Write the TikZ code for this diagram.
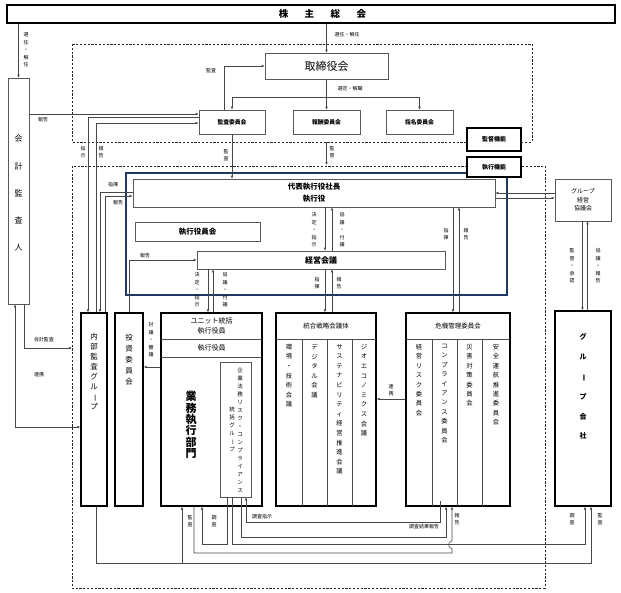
\documentclass[tikz,border=0pt]{standalone}
\usepackage{fontspec}
\setmainfont{Noto Sans CJK JP}
\usepackage{graphicx}
\usetikzlibrary{arrows.meta}
\definecolor{navy}{HTML}{1F3864}
\ExplSyntaxOn
\cs_new:Npn \vtx_char:n #1 { \str_if_eq:nnTF {#1} {ー} { \rotatebox[origin=c]{-90}{ー} } {#1} }
\NewDocumentCommand \VText { O{7.5pt} m }
  { \vbox { \baselineskip=#1 \lineskiplimit=-100pt \lineskip=0pt
      \tl_map_inline:nn {#2} { \hbox to 1em { \hss \vtx_char:n {##1} \hss } } } }
\ExplSyntaxOff
\newcommand\GBox[7]{\node[#2, minimum width={#5-#3}, minimum height={#6-#4}] (#1) at ({(#3+#5)/2},{(#4+#6)/2}) {#7};}
\begin{document}
\begin{tikzpicture}[x=1pt,y=-1pt,
  ln/.style={draw=black!72, line width=0.55pt},
  arr/.style={ln, -{Latex[length=3pt,width=2.6pt]}},
  arrr/.style={ln, {Latex[length=3pt,width=2.6pt]}-{Latex[length=3pt,width=2.6pt]}},
  tbox/.style={draw=black!65, line width=0.65pt, fill=white, inner sep=0pt},
  kbox/.style={draw=black, line width=1.3pt, fill=white, inner sep=0pt},
  dbox/.style={draw=black!85, line width=0.75pt, dash pattern=on 2.2pt off 1.6pt},
  hl/.style={draw=black!70, line width=0.6pt},
  lab/.style={inner sep=0pt, text=black, font=\fontsize{5}{5.8}\selectfont},
  txt/.style={inner sep=0pt},
]
\fill[white] (0,0) rectangle (621,592);
\useasboundingbox (0,0) rectangle (621,592);

% regions
\draw[dbox] (72,44) rectangle (532,142);
\draw[dbox] (72,166) rectangle (545,588);
\draw[navy, line width=1.1pt] (126,173) rectangle (507,295);

% boxes
\GBox{kabu}{kbox}{7}{5}{615}{23}{}
\node[txt, font=\bfseries\fontsize{9.5}{10}\selectfont] (tkabu) at (322.5,14) {株\hspace{16.5pt}主\hspace{16.5pt}総\hspace{16.5pt}会};
\GBox{kaikei}{tbox}{8}{78}{29}{304}{}
\node[txt, anchor=north, font=\fontsize{8}{9}\selectfont] (tkaikei) at (18.5,135) {\VText[27.2pt]{会計監査人}};
\GBox{tori}{tbox, font=\fontsize{11}{12}\selectfont}{265}{53}{388}{79}{取締役会}
\GBox{kansaI}{tbox, font=\bfseries\fontsize{5.8}{7}\selectfont}{199}{110}{265}{134}{監査委員会}
\GBox{hoshu}{tbox, font=\bfseries\fontsize{5.8}{7}\selectfont}{293}{110}{360}{134}{報酬委員会}
\GBox{shimei}{tbox, font=\bfseries\fontsize{5.8}{7}\selectfont}{386}{110}{453}{134}{指名委員会}
\GBox{kantoku}{kbox, font=\bfseries\fontsize{6}{7}\selectfont}{467}{128}{521}{151}{監督機能}
\GBox{shikko}{kbox, font=\bfseries\fontsize{6}{7}\selectfont}{467}{157}{521}{177}{執行機能}
\GBox{daihyo}{tbox, align=center, font=\bfseries\fontsize{7.5}{12}\selectfont}{133}{179}{495}{207}{代表執行役社長\\執行役}
\GBox{shyk}{tbox, font=\bfseries\fontsize{7.5}{9}\selectfont}{135}{222}{260}{241}{執行役員会}
\GBox{keiei}{tbox, font=\bfseries\fontsize{8}{9}\selectfont}{197}{251}{445}{269}{経営会議}
\GBox{gkk}{tbox, align=center, font=\fontsize{6}{8.5}\selectfont}{555}{179}{611}{221}{グループ\\経営\\協議会}
\GBox{naibu}{kbox}{81}{313}{107}{506}{}
\GBox{toshi}{kbox}{115}{313}{143}{506}{}
\GBox{gyomu}{kbox}{161}{313}{262}{506}{}
\GBox{togo}{kbox}{276}{313}{376}{506}{}
\GBox{kiki}{kbox}{406}{313}{510}{506}{}
\GBox{gk}{kbox}{555}{311}{611}{506}{}
\GBox{comp}{tbox}{220}{362}{251}{497}{}

% inner separators
\draw[hl] (161,339) -- (262,339);
\draw[hl] (161,357) -- (262,357);
\draw[hl] (276,339) -- (376,339);
\draw[hl] (406,339) -- (510,339);
\foreach \xx in {302,327,352,432,457,482} \draw[hl] (\xx,339) -- (\xx,506);

% box texts
\node[txt, anchor=north, font=\fontsize{7.5}{8}\selectfont] (tnaibu) at (94,333) {\VText[10pt]{内部監査グループ}};
\node[txt, anchor=north, font=\fontsize{7.5}{8}\selectfont] (ttoshi) at (129,334) {\VText[11pt]{投資委員会}};
\node[txt, align=center, font=\fontsize{7}{10.5}\selectfont] (tunit) at (211.5,326) {ユニット統括\\執行役員};
\node[txt, font=\fontsize{7}{8}\selectfont] (tshy2) at (211.5,348) {執行役員};
\node[txt, anchor=north, font=\bfseries\fontsize{11}{12}\selectfont] (tgyomu) at (191,391) {\VText[11.4pt]{業務執行部門}};
\node[txt, anchor=north, font=\fontsize{5.5}{6}\selectfont] (tc1) at (240,368) {\VText[8pt]{企業法務リスク・コンプライアンス}};
\node[txt, anchor=north, font=\fontsize{5.5}{6}\selectfont] (tc2) at (232,407) {\VText[8pt]{統括グループ}};
\node[txt, font=\fontsize{6.5}{7}\selectfont] (ttogo) at (326,326) {統合戦略会議体};
\node[txt, font=\fontsize{6.5}{7}\selectfont] (tkiki) at (458,326) {危機管理委員会};
\node[txt, anchor=north, font=\fontsize{6.3}{7}\selectfont] (tg1) at (289,344) {\VText[9.6pt]{環境・技術会議}};
\node[txt, anchor=north, font=\fontsize{6.3}{7}\selectfont] (tg2) at (314.5,344) {\VText[9.6pt]{デジタル会議}};
\node[txt, anchor=north, font=\fontsize{6.3}{7}\selectfont] (tg3) at (339.5,344) {\VText[9.6pt]{サステナビリティ経営推進会議}};
\node[txt, anchor=north, font=\fontsize{6.3}{7}\selectfont] (tg4) at (364,344) {\VText[9.6pt]{ジオエコノミクス会議}};
\node[txt, anchor=north, font=\fontsize{6.3}{7}\selectfont] (tk1) at (419,344) {\VText[9.4pt]{経営リスク委員会}};
\node[txt, anchor=north, font=\fontsize{6.3}{7}\selectfont] (tk2) at (444.5,344) {\VText[9.4pt]{コンプライアンス委員会}};
\node[txt, anchor=north, font=\fontsize{6.3}{7}\selectfont] (tk3) at (469.5,344) {\VText[9.4pt]{災害対策委員会}};
\node[txt, anchor=north, font=\fontsize{6.3}{7}\selectfont] (tk4) at (496,344) {\VText[9.4pt]{安全運航推進委員会}};
\node[txt, anchor=north, font=\bfseries\fontsize{7}{8}\selectfont] (tgk) at (583,333.5) {\VText[19.8pt]{グループ会社}};

% coordinates
\coordinate (sj) at (326.5,97);
\coordinate (ub) at (326.5,142);
\coordinate (lt) at (326.5,165);
\coordinate (Y114) at (0,114);
\coordinate (P117) at (88,117);
\coordinate (P123) at (96,123);
\coordinate (P192) at (100,192);
\coordinate (P196) at (105,196);
\coordinate (X325) at (325,0);
\coordinate (X332) at (332,0);
\coordinate (X453) at (453,0);
\coordinate (X459) at (459,0);
\coordinate (X208) at (208,0);
\coordinate (X213) at (213,0);
\coordinate (Y367) at (0,367);
\coordinate (Y193) at (0,193);
\coordinate (Y198) at (0,198);
\coordinate (X582) at (582.5,0);
\coordinate (X588) at (587.5,0);
\coordinate (KA) at (72,348);
\coordinate (X24) at (24,0);
\coordinate (X15) at (15,0);
\coordinate (Y427) at (0,427);
\coordinate (Y399) at (0,399);
\coordinate (BA) at (96,563);
\coordinate (X182) at (182,0);
\coordinate (X591) at (591,0);
\coordinate (X194) at (194,0);
\coordinate (BB) at (452,553);
\coordinate (X452) at (452,0);
\coordinate (X227) at (227,0);
\coordinate (X202) at (202,0);
\coordinate (Y544) at (0,544.5);
\coordinate (X232) at (232,0);
\coordinate (X585) at (585,0);
\coordinate (X241) at (241,0);
\coordinate (X446) at (446,0);
\coordinate (Y537) at (0,537);
\coordinate (FS) at (440,501);
\coordinate (X246) at (246,0);
\coordinate (Y522) at (0,522);

% connectors
\draw[arr] (kabu.south -| kaikei.north) -- (kaikei.north);
\draw[arr] (kabu.south -| tori.north) -- (tori.north);
\draw[ln] (tori.south) -- (sj);
\draw[arr] (sj) -- (hoshu.north);
\draw[arr] (sj) -| (kansaI.north);
\draw[arr] (sj) -| (shimei.north);
\draw[arr] ([xshift=-8pt]kansaI.north) |- (tori.west);
\draw[arr] (kaikei.east |- Y114) -- (kansaI.west |- Y114);
\draw[arr] (kansaI.west |- P117) -| (naibu.north -| P117);
\draw[arr] (naibu.north -| P123) |- (kansaI.west |- P123);
\draw[arr] (daihyo.west |- P192) -| (naibu.north -| P192);
\draw[arr] (naibu.north -| P196) |- (daihyo.west |- P196);
\draw[arr] (kansaI.south) -- (daihyo.north -| kansaI.south);
\draw[arr] (ub) -- (lt);
\draw[arr] (daihyo.south -| X325) -- (keiei.north -| X325);
\draw[arr] (keiei.north -| X332) -- (daihyo.south -| X332);
\draw[arr] (daihyo.south -| X453) -- (kiki.north -| X453);
\draw[arr] (kiki.north -| X459) -- (daihyo.south -| X459);
\draw[arr] (keiei.south -| X325) -- (togo.north -| X325);
\draw[arr] (togo.north -| X332) -- (keiei.south -| X332);
\draw[arr] (keiei.south -| X208) -- (gyomu.north -| X208);
\draw[arr] (gyomu.north -| X213) -- (keiei.south -| X213);
\draw[arr] (toshi.north) |- (keiei.west);
\draw[arr] (gyomu.west |- Y367) -- (toshi.east |- Y367);
\draw[arr] (gkk.west |- Y193) -- (daihyo.east |- Y193);
\draw[arr] (daihyo.east |- Y198) -- (gkk.west |- Y198);
\draw[arr] (gkk.south -| X582) -- (gk.north -| X582);
\draw[arr] (gk.north -| X588) -- (gkk.south -| X588);
\draw[arr] (kaikei.south -| X24) |- (KA);
\draw[arrr] (kaikei.south -| X15) |- (naibu.west |- Y427);
\draw[arr] (kiki.west |- Y399) -- (togo.east |- Y399);

% bottom connectors
\draw[arr] (naibu.south -| BA) |- (X591 |- BA) -- (gk.south -| X591);
\draw[arr] (X182 |- BA) -- (gyomu.south -| X182);
\draw[arr] (gyomu.south -| X194) |- (BB) -- (452,548.5) .. controls (447.5,548.5) and (447.5,541) .. (452,541) -- (kiki.south -| X452);
\draw[arr] (comp.south -| X227) |- (X202 |- Y544) -- (gyomu.south -| X202);
\draw[arr] (comp.south -| X232) |- (X585 |- Y544) -- (gk.south -| X585);
\draw[arr] (comp.south -| X241) |- (X446 |- Y537) -- (kiki.south -| X446);
\draw[arr] (FS) |- (X246 |- Y522) -- (comp.south -| X246);

% labels
\node[lab] (l1) at (26,50) {\VText{選任・解任}};
\node[lab] (l2) at (347,35) {選任・解任};
\node[lab] (l3) at (350,89) {選定・解職};
\node[lab] (l4) at (211,71) {監査};
\node[lab] (l5) at (43,120) {報告};
\node[lab] (l6) at (83,152) {\VText{指示}};
\node[lab] (l7) at (101,152) {\VText{報告}};
\node[lab] (l8) at (226,155) {\VText{監査}};
\node[lab] (l9) at (332,152) {\VText{監督}};
\node[lab] (l10) at (113,185) {指揮};
\node[lab] (l11) at (118,203) {報告};
\node[lab] (l12) at (314,230) {\VText{決定・指示}};
\node[lab] (l13) at (342,230) {\VText{協議・付議}};
\node[lab] (l14) at (446,234) {\VText{指揮}};
\node[lab] (l15) at (466,234) {\VText{報告}};
\node[lab] (l16) at (145,256) {報告};
\node[lab] (l17) at (317,283) {\VText{指揮}};
\node[lab] (l18) at (339,283) {\VText{報告}};
\node[lab] (l19) at (197,290) {\VText{決定・指示}};
\node[lab] (l20) at (225,290) {\VText{協議・付議}};
\node[lab] (l21) at (572,266) {\VText{監督・承認}};
\node[lab] (l22) at (598,266) {\VText{協議・報告}};
\node[lab] (l23) at (44,340) {会計監査};
\node[lab] (l24) at (39,375) {連携};
\node[lab] (l25) at (151,340) {\VText{討議・審議}};
\node[lab] (l26) at (391,390) {\VText{連携}};
\node[lab] (l27) at (190,521) {\VText{監査}};
\node[lab] (l28) at (214,521) {\VText{調査}};
\node[lab] (l29) at (262,517) {調査指示};
\node[lab] (l30) at (424,527) {調査結果報告};
\node[lab] (l31) at (457,519) {\VText{報告}};
\node[lab] (l32) at (572,519) {\VText{調査}};
\node[lab] (l33) at (600,519) {\VText{監査}};
\end{tikzpicture}
\end{document}
